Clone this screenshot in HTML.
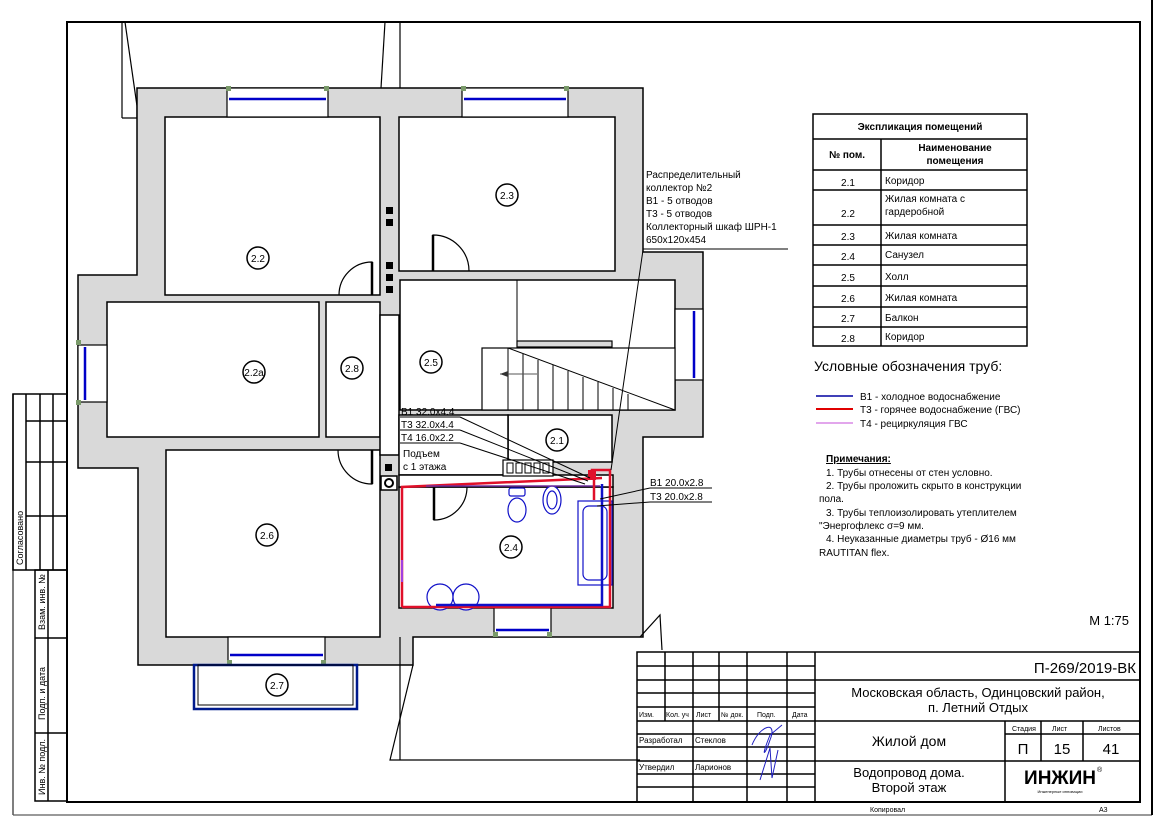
<!DOCTYPE html>
<html><head><meta charset="utf-8"><style>
html,body{margin:0;padding:0;background:#fff;}
svg{display:block}
text{font-family:"Liberation Sans",Arial,sans-serif;fill:#000}
</style></head><body>
<svg width="1166" height="824" viewBox="0 0 1166 824" xmlns="http://www.w3.org/2000/svg">
<rect width="1166" height="824" fill="#fff"/>
<line x1="13" y1="815" x2="1152" y2="815" stroke="#999" stroke-width="2"/>
<line x1="13" y1="394" x2="13" y2="815" stroke="#555" stroke-width="1.5"/>
<rect x="67" y="22" width="1073" height="780" fill="none" stroke="#000" stroke-width="2"/>
<line x1="1152" y1="0" x2="1152" y2="815" stroke="#000" stroke-width="2"/>
<g stroke="#000" stroke-width="1.5" fill="none">
<rect x="13" y="394" width="54" height="176"/>
<line x1="26" y1="394" x2="26" y2="570"/><line x1="40" y1="394" x2="40" y2="570"/><line x1="53" y1="394" x2="53" y2="570"/>
<line x1="26" y1="421" x2="67" y2="421"/><line x1="26" y1="462" x2="67" y2="462"/><line x1="26" y1="516" x2="67" y2="516"/>
<rect x="35" y="570" width="32" height="231"/>
<line x1="48" y1="570" x2="48" y2="801"/>
<line x1="35" y1="638" x2="67" y2="638"/><line x1="35" y1="733" x2="67" y2="733"/>
</g>
<text transform="translate(23,565) rotate(-90)" font-size="9">Согласовано</text>
<text transform="translate(45,630) rotate(-90)" font-size="9">Взам. инв. №</text>
<text transform="translate(45,720) rotate(-90)" font-size="9">Подп. и дата</text>
<text transform="translate(45,795) rotate(-90)" font-size="9">Инв. № подл.</text>

<g stroke="#000" stroke-width="1.2" fill="none">
<line x1="122" y1="22" x2="122" y2="118"/><line x1="125" y1="22" x2="137" y2="106"/>
<polyline points="122,118 137,118 137,106"/>
<line x1="385" y1="22" x2="381" y2="88"/><line x1="400" y1="22" x2="400" y2="88"/>
</g>

<g fill="#d9d9d9" stroke="#000" stroke-width="1.5">
<polygon points="137,88 643,88 643,252 703,252 703,437 643,437 643,637 413,637 413,665 138,665 138,468 78,468 78,275 137,275"/>
</g>
<g fill="#fff" stroke="#000" stroke-width="1.5">
<rect x="165" y="117" width="215" height="178"/>
<rect x="399" y="117" width="216" height="154"/>
<rect x="107" y="302" width="212" height="135"/>
<rect x="326" y="302" width="54" height="135"/>
<rect x="166" y="450" width="214" height="187"/>
<rect x="400" y="280" width="275" height="130"/>
<rect x="399" y="487" width="214" height="121"/>
<rect x="508" y="415" width="104" height="47"/>
<rect x="380" y="315" width="19" height="140" fill="#fff"/>
<rect x="399" y="415" width="109" height="60"/>
<rect x="399" y="475" width="214" height="12"/>
</g>
<g stroke="#000" stroke-width="1.2" fill="#fff">
<rect x="227" y="88" width="101" height="29"/>
<rect x="462" y="88" width="106" height="29"/>
<rect x="78" y="345" width="29" height="57"/>
<rect x="675" y="309" width="28" height="71"/>
<rect x="228" y="637" width="97" height="28"/>
<rect x="494" y="608" width="57" height="29"/>
</g>
<g stroke="#0000c8" stroke-width="2.5">
<line x1="229" y1="99" x2="326" y2="99"/><line x1="464" y1="99" x2="566" y2="99"/>
<line x1="85" y1="347" x2="85" y2="400"/><line x1="694" y1="311" x2="694" y2="378"/>
<line x1="230" y1="655" x2="323" y2="655"/><line x1="496" y1="630" x2="549" y2="630"/>
</g>
<g fill="#7a9a6a">
<rect x="226" y="86" width="5" height="5"/><rect x="324" y="86" width="5" height="5"/>
<rect x="461" y="86" width="5" height="5"/><rect x="564" y="86" width="5" height="5"/>
<rect x="76" y="340" width="5" height="5"/><rect x="76" y="400" width="5" height="5"/>
<rect x="227" y="660" width="5" height="5"/><rect x="321" y="660" width="5" height="5"/>
<rect x="493" y="632" width="5" height="5"/><rect x="547" y="632" width="5" height="5"/>
</g>
<rect x="194" y="665" width="163" height="44" fill="none" stroke="#001a8c" stroke-width="2.5"/>
<rect x="198" y="665" width="155" height="40" fill="none" stroke="#000" stroke-width="1"/>

<g stroke="#000" fill="none" stroke-width="1.2">
<path d="M372,295 L372,262 A33,33 0 0 0 339,295"/>
<line x1="372" y1="262" x2="372" y2="295" stroke-width="2.5"/>
<path d="M433,271 L433,235 A36,36 0 0 1 469,271"/>
<line x1="433" y1="235" x2="433" y2="271" stroke-width="2.5"/>
<path d="M372,450 L372,484 A34,34 0 0 1 338,450"/>
<line x1="372" y1="450" x2="372" y2="484" stroke-width="2.5"/>
<path d="M434,487 L434,520 A33,33 0 0 0 467,487"/>
<line x1="434" y1="487" x2="434" y2="520" stroke-width="2.5"/>
</g>
<g fill="#000">
<rect x="386" y="207" width="7" height="7"/><rect x="386" y="219" width="7" height="7"/>
<rect x="386" y="262" width="7" height="7"/><rect x="386" y="274" width="7" height="7"/><rect x="386" y="286" width="7" height="7"/>
<rect x="385" y="464" width="7" height="7"/>
</g>
<rect x="381" y="476" width="16" height="14" fill="#fff" stroke="#000" stroke-width="1.5"/>
<circle cx="389" cy="483" r="4" fill="none" stroke="#000" stroke-width="2"/>

<g stroke="#000" stroke-width="1.2" fill="#fff">
<rect x="517" y="341" width="95" height="6" fill="#d9d9d9"/>
<rect x="482" y="348" width="193" height="62"/>
</g>
<g stroke="#000" stroke-width="1">
<line x1="508" y1="348" x2="508" y2="410"/><line x1="523" y1="354" x2="523" y2="410"/><line x1="538" y1="360" x2="538" y2="410"/>
<line x1="553" y1="365" x2="553" y2="410"/><line x1="568" y1="371" x2="568" y2="410"/><line x1="583" y1="377" x2="583" y2="410"/>
<line x1="598" y1="382" x2="598" y2="410"/><line x1="613" y1="388" x2="613" y2="410"/><line x1="628" y1="394" x2="628" y2="410"/>
<line x1="508" y1="348" x2="675" y2="410"/>
<line x1="517" y1="280" x2="517" y2="341"/>
<line x1="500" y1="374" x2="537" y2="374" stroke="#555"/>
</g>
<polygon points="500,374 508,371 508,377" fill="#333"/>

<g stroke="#1010c8" stroke-width="1.2" fill="#fff">
<rect x="578" y="501" width="34" height="84"/>
<rect x="583" y="506" width="24" height="74" rx="6"/>
<ellipse cx="517" cy="510" rx="9" ry="12"/>
<rect x="509" y="488" width="16" height="8" rx="2"/>
<ellipse cx="552" cy="500" rx="9" ry="14"/>
<ellipse cx="552" cy="500" rx="5" ry="9"/>
<circle cx="440" cy="597" r="13"/><circle cx="466" cy="597" r="13"/>
</g>
<rect x="503" y="460" width="50" height="16" fill="#fff" stroke="#000" stroke-width="1.2"/>
<g fill="#fff" stroke="#000" stroke-width="1"><rect x="507" y="463" width="6" height="10"/><rect x="516" y="463" width="6" height="10"/><rect x="525" y="463" width="6" height="10"/><rect x="534" y="463" width="6" height="10"/><rect x="543" y="463" width="6" height="10"/></g>
<g fill="none" stroke-width="2.5">
<polyline points="592,475 592,470 610,470 610,607 402,607" stroke="#e0102a"/>
<polyline points="602,478 402,487 402,607" stroke="#e0102a"/>
<polyline points="602,484 602,605 436,605" stroke="#1010c8"/>
<polyline points="600,486 426,486" stroke="#7030a0" stroke-width="1.5"/>
<line x1="402" y1="560" x2="402" y2="582" stroke="#a040e0" stroke-width="2"/>
<line x1="594" y1="478" x2="594" y2="500" stroke="#e0102a"/>
</g>
<rect x="588" y="470" width="8" height="10" fill="#e0102a"/>

<g stroke="#000" stroke-width="1">
<line x1="400" y1="417" x2="460" y2="417"/><line x1="460" y1="417" x2="590" y2="478"/>
<line x1="400" y1="430" x2="460" y2="430"/><line x1="460" y1="430" x2="588" y2="481"/>
<line x1="400" y1="443" x2="460" y2="443"/><line x1="460" y1="443" x2="585" y2="484"/>
<line x1="643" y1="249" x2="788" y2="249"/><line x1="643" y1="250" x2="611" y2="470"/>
<line x1="650" y1="488" x2="712" y2="488"/><line x1="650" y1="488" x2="600" y2="499"/>
<line x1="650" y1="502" x2="712" y2="502"/><line x1="650" y1="502" x2="597" y2="506"/>
</g>
<g font-size="10">
<text x="401" y="415">B1 32.0x4.4</text>
<text x="401" y="428">T3 32.0x4.4</text>
<text x="401" y="441">T4 16.0x2.2</text>
<text x="403" y="457">Подъем</text>
<text x="403" y="470">с 1 этажа</text>
<text x="646" y="178">Распределительный</text>
<text x="646" y="191">коллектор №2</text>
<text x="646" y="204">В1 - 5 отводов</text>
<text x="646" y="217">Т3 - 5 отводов</text>
<text x="646" y="230">Коллекторный шкаф ШРН-1</text>
<text x="646" y="243">650x120x454</text>
<text x="650" y="486">B1 20.0x2.8</text>
<text x="650" y="500">T3 20.0x2.8</text>
</g>

<g fill="#fff" stroke="#000" stroke-width="1.5">
<circle cx="258" cy="258" r="11"/><circle cx="507" cy="195" r="11"/><circle cx="254" cy="372" r="11"/>
<circle cx="352" cy="368" r="11"/><circle cx="431" cy="362" r="11"/><circle cx="557" cy="440" r="11"/>
<circle cx="511" cy="547" r="11"/><circle cx="267" cy="535" r="11"/><circle cx="277" cy="685" r="11"/>
</g>
<g font-size="10" text-anchor="middle">
<text x="258" y="262">2.2</text><text x="507" y="199">2.3</text><text x="254" y="376">2.2a</text>
<text x="352" y="372">2.8</text><text x="431" y="366">2.5</text><text x="557" y="444">2.1</text>
<text x="511" y="551">2.4</text><text x="267" y="539">2.6</text><text x="277" y="689">2.7</text>
</g>

<g stroke="#000" stroke-width="1.2" fill="none">
<polyline points="413,665 390,760 640,760"/>
<line x1="400" y1="637" x2="400" y2="760"/>
<polyline points="640,637 660,615 662,650"/>
</g>

<g stroke="#000" stroke-width="1.5" fill="none">
<rect x="813" y="114" width="214" height="232"/>
<line x1="813" y1="139" x2="1027" y2="139"/><line x1="813" y1="170" x2="1027" y2="170"/>
<line x1="881" y1="139" x2="881" y2="346"/>
<line x1="813" y1="190" x2="1027" y2="190"/><line x1="813" y1="225" x2="1027" y2="225"/>
<line x1="813" y1="245" x2="1027" y2="245"/><line x1="813" y1="265" x2="1027" y2="265"/>
<line x1="813" y1="286" x2="1027" y2="286"/><line x1="813" y1="307" x2="1027" y2="307"/>
<line x1="813" y1="327" x2="1027" y2="327"/>
</g>
<g font-size="10">
<text x="920" y="130" text-anchor="middle" font-weight="bold">Экспликация помещений</text>
<text x="847" y="158" text-anchor="middle" font-weight="bold">№ пом.</text>
<text x="955" y="151" text-anchor="middle" font-weight="bold">Наименование</text>
<text x="955" y="164" text-anchor="middle" font-weight="bold">помещения</text>
<g text-anchor="middle"><text x="848" y="186">2.1</text><text x="848" y="217">2.2</text><text x="848" y="240">2.3</text><text x="848" y="260">2.4</text><text x="848" y="281">2.5</text><text x="848" y="302">2.6</text><text x="848" y="322">2.7</text><text x="848" y="342">2.8</text></g>
<text x="885" y="184">Коридор</text><text x="885" y="202">Жилая комната с</text><text x="885" y="215">гардеробной</text>
<text x="885" y="239">Жилая комната</text><text x="885" y="258">Санузел</text><text x="885" y="280">Холл</text>
<text x="885" y="301">Жилая комната</text><text x="885" y="321">Балкон</text><text x="885" y="340">Коридор</text>
</g>
<text x="814" y="371" font-size="14">Условные обозначения  труб:</text>
<line x1="816" y1="396" x2="853" y2="396" stroke="#0000a0" stroke-width="1.5"/>
<line x1="816" y1="409" x2="853" y2="409" stroke="#e00000" stroke-width="2"/>
<line x1="816" y1="423" x2="853" y2="423" stroke="#d070e0" stroke-width="1.2"/>
<g font-size="10">
<text x="860" y="400">В1 - холодное водоснабжение</text>
<text x="860" y="413">Т3 - горячее водоснабжение (ГВС)</text>
<text x="860" y="427">Т4 - рециркуляция ГВС</text>
<text x="826" y="462" font-weight="bold" text-decoration="underline">Примечания:</text>
<text x="826" y="476">1.     Трубы отнесены от стен условно.</text>
<text x="826" y="489">2.     Трубы проложить скрыто в конструкции</text>
<text x="819" y="502">пола.</text>
<text x="826" y="516">3.     Трубы теплоизолировать утеплителем</text>
<text x="819" y="529">"Энергофлекс σ=9 мм.</text>
<text x="826" y="542">4.     Неуказанные диаметры труб - Ø16 мм</text>
<text x="819" y="556">RAUTITAN flex.</text>
</g>
<text x="1129" y="625" font-size="13" text-anchor="end">М 1:75</text>

<g stroke="#000" stroke-width="1.5" fill="none">
<rect x="637" y="652" width="503" height="150"/>
<line x1="665" y1="652" x2="665" y2="721"/><line x1="693" y1="652" x2="693" y2="802"/>
<line x1="719" y1="652" x2="719" y2="721"/><line x1="747" y1="652" x2="747" y2="802"/>
<line x1="787" y1="652" x2="787" y2="802"/><line x1="815" y1="652" x2="815" y2="802"/>
<line x1="637" y1="666" x2="815" y2="666"/><line x1="637" y1="680" x2="1140" y2="680"/>
<line x1="637" y1="693" x2="815" y2="693"/><line x1="637" y1="707" x2="815" y2="707"/>
<line x1="637" y1="721" x2="1140" y2="721"/><line x1="637" y1="734" x2="815" y2="734"/>
<line x1="637" y1="747" x2="815" y2="747"/><line x1="637" y1="761" x2="1140" y2="761"/>
<line x1="637" y1="774" x2="815" y2="774"/><line x1="637" y1="787" x2="815" y2="787"/>
<line x1="1005" y1="721" x2="1005" y2="761"/><line x1="1041" y1="721" x2="1041" y2="761"/>
<line x1="1083" y1="721" x2="1083" y2="761"/><line x1="1005" y1="734" x2="1140" y2="734"/>
<line x1="1005" y1="761" x2="1005" y2="802"/>
</g>
<g font-size="7">
<text x="639" y="717">Изм.</text><text x="666" y="717">Кол. уч</text><text x="696" y="717">Лист</text>
<text x="721" y="717">№ док.</text><text x="757" y="717">Подп.</text><text x="792" y="717">Дата</text>
<text x="1012" y="731">Стадия</text><text x="1052" y="731">Лист</text><text x="1098" y="731">Листов</text>
</g>
<g font-size="8">
<text x="639" y="743">Разработал</text><text x="695" y="743">Стеклов</text>
<text x="639" y="770">Утвердил</text><text x="695" y="770">Ларионов</text>
</g>
<path d="M752,745 C760,725 778,720 770,740 C765,755 760,760 770,735 L782,725 M760,780 L770,748 L772,778 L778,750" stroke="#2020c0" fill="none" stroke-width="1"/>
<text x="1136" y="673" font-size="15" text-anchor="end">П-269/2019-ВК</text>
<text x="978" y="697" font-size="13" text-anchor="middle">Московская область, Одинцовский район,</text>
<text x="978" y="712" font-size="13" text-anchor="middle">п. Летний Отдых</text>
<text x="909" y="746" font-size="14" text-anchor="middle">Жилой дом</text>
<text x="1023" y="754" font-size="15" text-anchor="middle">П</text>
<text x="1062" y="754" font-size="15" text-anchor="middle">15</text>
<text x="1111" y="754" font-size="15" text-anchor="middle">41</text>
<text x="909" y="777" font-size="13" text-anchor="middle">Водопровод дома.</text>
<text x="909" y="792" font-size="13" text-anchor="middle">Второй этаж</text>
<text x="1060" y="784" font-size="19" font-weight="bold" text-anchor="middle">ИНЖИН</text>
<text x="1097" y="772" font-size="7">®</text>
<text x="1060" y="793" font-size="4" fill="#2a9a2a" text-anchor="middle">Инженерные инновации</text>
<text x="870" y="812" font-size="7">Копировал</text>
<text x="1099" y="812" font-size="7">А3</text>
</svg>
</body></html>
